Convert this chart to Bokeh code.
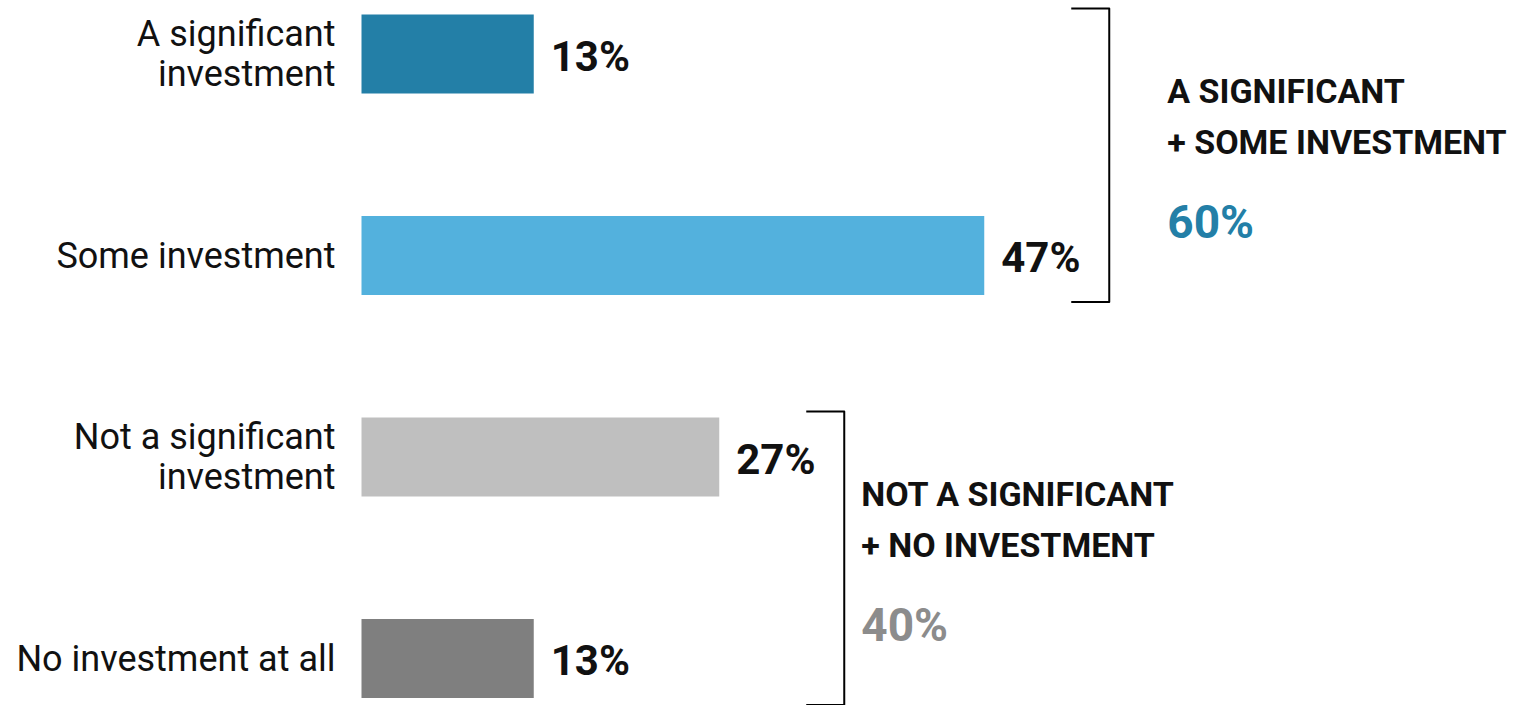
from bokeh.plotting import figure
from bokeh.models import Range1d
from bokeh.core.properties import value
from bokeh.embed import file_html
from bokeh.resources import INLINE

# ---- data ----
categories = ["A significant\ninvestment", "Some investment",
              "Not a significant\ninvestment", "No investment at all"]
values = [13, 47, 27, 13]
bar_colors = ["#237fa7", "#53b1dd", "#bfbfbf", "#7f7f7f"]
group_titles = ["A SIGNIFICANT\n+ SOME INVESTMENT", "NOT A SIGNIFICANT\n+ NO INVESTMENT"]
group_members = [[0, 1], [2, 3]]
group_totals = [60, 40]
group_colors = ["#237fa7", "#8c8c8c"]

# ---- layout ----
W, H = 1524, 705
PXX = 13.25          # px per percent
X0 = 361             # px position of 0
ROW = 201.5          # px per row
Y0 = 53.5            # px of first row center
FONT = value("Roboto")

p = figure(width=W, height=H, output_backend="svg", toolbar_location=None,
           x_range=Range1d(-X0 / PXX, (W - X0) / PXX),
           y_range=Range1d(3 + (H - (Y0 + 3 * ROW)) / ROW, -Y0 / ROW),
           x_axis_location=None, y_axis_location=None, min_border=0)
p.outline_line_color = None
p.grid.visible = False
p.background_fill_color = "white"
p.border_fill_color = "white"

ys = list(range(len(values)))
bar_h = 79 / ROW
p.hbar(y=ys, left=0, right=values, height=bar_h, fill_color=bar_colors, line_color=None)

# category labels
p.text(x=[0] * len(ys), y=ys, text=categories, x_offset=-26, y_offset=0,
       text_align="right", text_baseline="middle", text_font=FONT,
       text_font_size="36px", text_color="#111111", text_line_height=0.97)

# value labels
p.text(x=values, y=ys, text=[f"{v}%" for v in values], x_offset=17, y_offset=2,
       text_align="left", text_baseline="middle", text_font=FONT,
       text_font_size="42px", text_font_style="bold", text_color="#111111")

# brackets and group labels
label_dx = [58, 17]
for gi, members in enumerate(group_members):
    vmax = max(values[i] for i in members)
    top = members[0] - bar_h / 2 - 6 / ROW
    bot = members[-1] + bar_h / 2 + 7 / ROW
    xv = vmax + 125 / PXX
    xh = vmax + 87 / PXX
    p.line(x=[xh, xv, xv, xh], y=[top, top, bot, bot], line_color="black",
           line_width=2, line_join="round")
    yc = (top + bot) / 2
    tx = xv + label_dx[gi] / PXX
    lines = group_titles[gi].split("\n")
    p.text(x=[tx, tx], y=[yc, yc], text=lines, y_offset=[-64, -13],
           text_align="left", text_baseline="alphabetic", text_font=FONT,
           text_font_size="34px", text_font_style="bold", text_color="#111111")
    p.text(x=[tx], y=[yc], text=[f"{group_totals[gi]}%"], y_offset=67,
           text_align="left", text_baseline="alphabetic", text_font=FONT,
           text_font_size="46px", text_font_style="bold", text_color=group_colors[gi])

open("out.html", "w").write(file_html(p, INLINE))
